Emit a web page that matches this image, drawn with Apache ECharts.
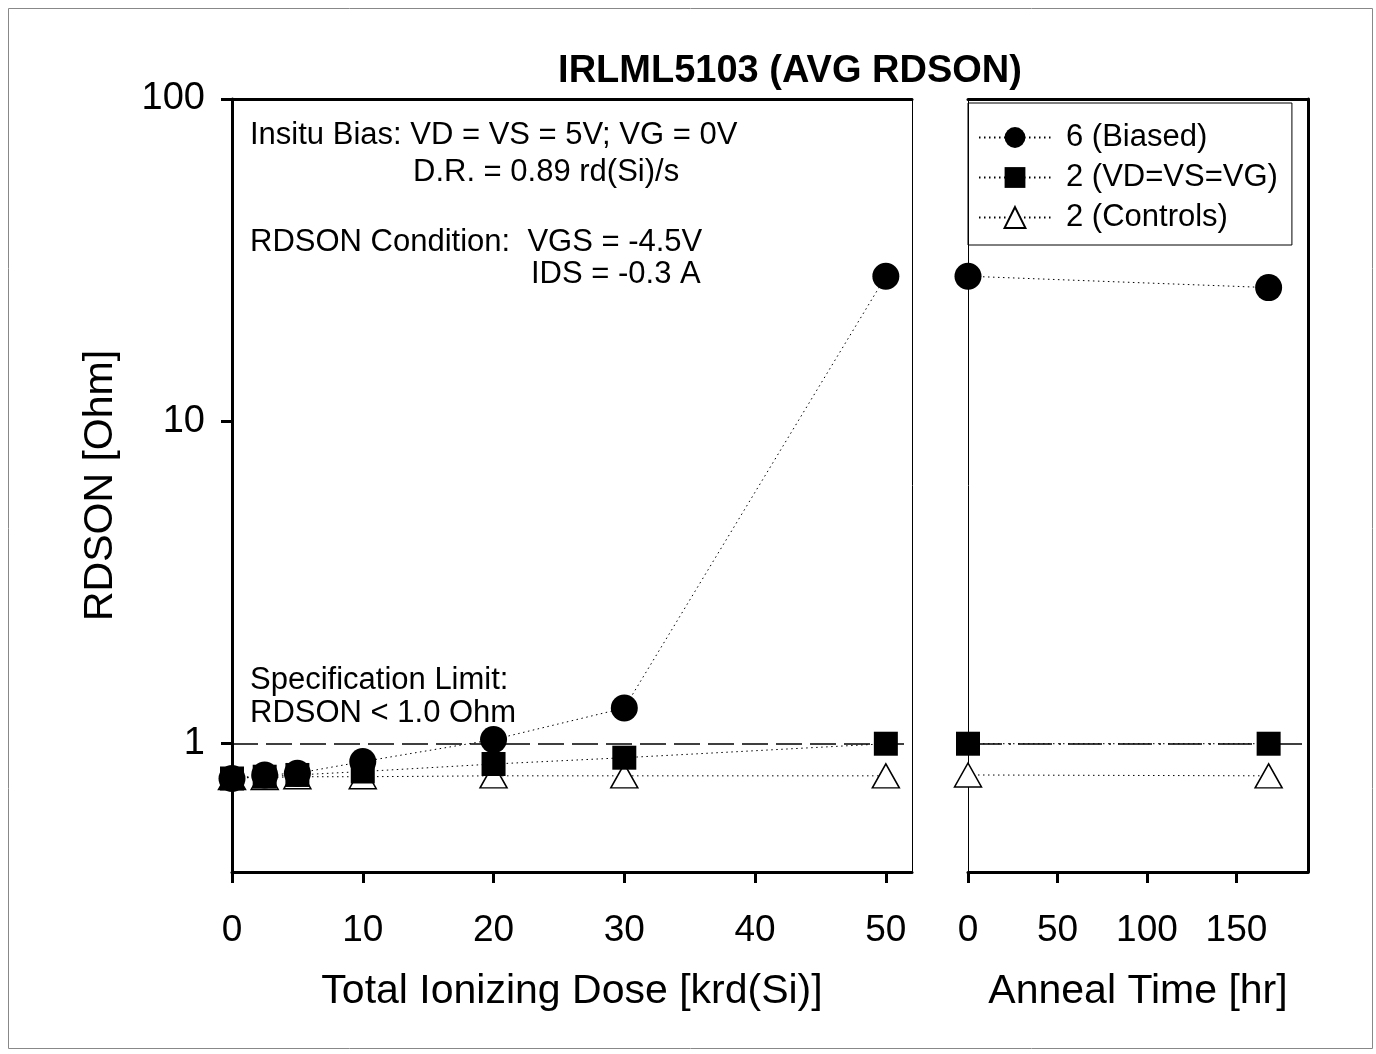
<!DOCTYPE html>
<html>
<head>
<meta charset="utf-8">
<title>IRLML5103 (AVG RDSON)</title>
<script src="https://cdn.jsdelivr.net/npm/echarts@6/dist/echarts.min.js"></script>
<style>
html, body { margin: 0; padding: 0; background: #fff; }
#chart { width: 1376px; height: 1054px; }
</style>
</head>
<body>
<div id="chart"></div>
<script>
// данные: доза (krd(Si)) и отжиг (hr)
const doseX = [0, 2.5, 5, 10, 20, 30, 50]
const annealX = [0, 168]

const biasedDose = [0.78, 0.80, 0.81, 0.88, 1.03, 1.29, 28.2]
const tiedDose = [0.78, 0.79, 0.80, 0.82, 0.865, 0.905, 1.0]
const controlDose = [0.785, 0.785, 0.79, 0.79, 0.795, 0.795, 0.795]

const biasedAnneal = [28.2, 26.0]
const tiedAnneal = [1.0, 1.0]
const controlAnneal = [0.80, 0.795]

const seriesNames = ['6 (Biased)', '2 (VD=VS=VG)', '2 (Controls)']

// подписи осей
const doseTicks = [0, 10, 20, 30, 40, 50]
const annealTicks = [0, 50, 100, 150]
const rdsonTicks = [1, 10, 100]
const specLimit = 1

const font = '"Liberation Sans", Arial, sans-serif'

function pairs(xs, ys) {
    return xs.map((x, i) => [x, ys[i]])
}

// маркеры
const markers = [
    { symbol: 'circle', symbolSize: 27, itemStyle: { color: '#000' }, z: 4 },
    { symbol: 'rect', symbolSize: 24, itemStyle: { color: '#000' }, z: 3 },
    { symbol: 'triangle', symbolSize: [27, 24], itemStyle: { color: '#fff', borderColor: '#000', borderWidth: 1.5 }, z: 2 }
]

const doseData = [biasedDose, tiedDose, controlDose]
const annealData = [biasedAnneal, tiedAnneal, controlAnneal]

let series = []
for (let i = 0; i < seriesNames.length; i++) {
    const base = {
        name: seriesNames[i],
        type: 'line',
        symbol: markers[i].symbol,
        symbolSize: markers[i].symbolSize,
        itemStyle: markers[i].itemStyle,
        z: markers[i].z,
        lineStyle: { color: '#000', width: 1, type: [1.5, 3.5] },
        emphasis: { disabled: true },
        animation: false
    }
    series.push(Object.assign({}, base, {
        xAxisIndex: 0, yAxisIndex: 0,
        data: pairs(doseX, doseData[i])
    }))
    series.push(Object.assign({}, base, {
        xAxisIndex: 2, yAxisIndex: 2,
        data: pairs(annealX, annealData[i])
    }))
}

// линия спецификации
series[0].markLine = {
    silent: true, symbol: 'none', label: { show: false },
    lineStyle: { color: '#000', width: 1.5, type: [26, 8] },
    data: [{ yAxis: specLimit }]
}
series[1].markLine = {
    silent: true, symbol: 'none', label: { show: false },
    lineStyle: { color: '#000', width: 1.5, type: [34, 7, 2, 7] },
    data: [{ yAxis: specLimit }]
}

function frameAxis(gridIndex, position, type, min, max, width) {
    return {
        gridIndex: gridIndex, position: position, type: type, min: min, max: max,
        axisLine: { show: true, onZero: false, lineStyle: { color: '#000', width: width } },
        axisTick: { show: false }, axisLabel: { show: false }, splitLine: { show: false }
    }
}

const tickStyle = { color: '#000', width: 3 }
const noteFont = '31px ' + font

const chart = echarts.init(document.getElementById('chart'))

const options = {
    animation: false,
    title: {
        text: 'IRLML5103 (AVG RDSON)',
        left: 785, top: 48, textAlign: 'center',
        textStyle: { fontFamily: font, fontSize: 38, fontWeight: 'bold', color: '#000' }
    },
    legend: {
        data: seriesNames,
        orient: 'vertical',
        left: 968, top: 103,
        padding: [19, 14, 12, 10],
        itemWidth: 72, itemHeight: 26, itemGap: 9,
        borderColor: '#000', borderWidth: 1,
        textStyle: { fontFamily: font, fontSize: 31, color: '#000', padding: [0, 0, 0, 10] }
    },
    grid: [
        { left: 232, top: 99, width: 680, height: 773 },
        { left: 968, top: 99, width: 340, height: 773 }
    ],
    xAxis: [
        {
            gridIndex: 0, position: 'bottom', type: 'value', min: 0, max: 52,
            axisLine: { onZero: false, lineStyle: { color: '#000', width: 3 } },
            axisTick: { show: true, length: 11, lineStyle: tickStyle, customValues: doseTicks },
            axisLabel: { fontFamily: font, fontSize: 37, color: '#000', margin: 40, customValues: doseTicks },
            splitLine: { show: false },
            name: 'Total Ionizing Dose [krd(Si)]', nameLocation: 'middle', nameGap: 99,
            nameTextStyle: { fontFamily: font, fontSize: 41, color: '#000' }
        },
        frameAxis(0, 'top', 'value', 0, 52, 3),
        {
            gridIndex: 1, position: 'bottom', type: 'value', min: 0, max: 190,
            axisLine: { onZero: false, lineStyle: { color: '#000', width: 3 } },
            axisTick: { show: true, length: 11, lineStyle: tickStyle, customValues: annealTicks },
            axisLabel: { fontFamily: font, fontSize: 37, color: '#000', margin: 40, customValues: annealTicks },
            splitLine: { show: false },
            name: 'Anneal Time [hr]', nameLocation: 'middle', nameGap: 99,
            nameTextStyle: { fontFamily: font, fontSize: 41, color: '#000' }
        },
        frameAxis(1, 'top', 'value', 0, 190, 3)
    ],
    yAxis: [
        {
            gridIndex: 0, position: 'left', type: 'log', logBase: 10, min: 0.4, max: 100,
            axisLine: { show: true, onZero: false, lineStyle: { color: '#000', width: 3 } },
            axisTick: { show: true, length: 11, lineStyle: tickStyle, customValues: rdsonTicks },
            axisLabel: { fontFamily: font, fontSize: 38, color: '#000', margin: 27, customValues: rdsonTicks },
            minorTick: { show: false },
            splitLine: { show: false },
            name: 'RDSON [Ohm]', nameLocation: 'middle', nameGap: 111, nameRotate: 90,
            nameTextStyle: { fontFamily: font, fontSize: 41, color: '#000' }
        },
        frameAxis(0, 'right', 'log', 0.4, 100, 1),
        frameAxis(1, 'left', 'log', 0.4, 100, 1),
        frameAxis(1, 'right', 'log', 0.4, 100, 3)
    ],
    graphic: [
        { type: 'rect', left: 6, top: 6, shape: { width: 1364, height: 1040 }, style: { fill: 'none', stroke: '#888', lineWidth: 1 } },
        { type: 'text', x: 250, y: 135, style: { text: 'Insitu Bias: VD = VS = 5V; VG = 0V', font: noteFont, fill: '#000', verticalAlign: 'middle' } },
        { type: 'text', x: 413, y: 172, style: { text: 'D.R. = 0.89 rd(Si)/s', font: noteFont, fill: '#000', verticalAlign: 'middle' } },
        { type: 'text', x: 250, y: 242, style: { text: 'RDSON Condition:  VGS = -4.5V', font: noteFont, fill: '#000', verticalAlign: 'middle' } },
        { type: 'text', x: 531, y: 274, style: { text: 'IDS = -0.3 A', font: noteFont, fill: '#000', verticalAlign: 'middle' } },
        { type: 'text', x: 250, y: 680, style: { text: 'Specification Limit:', font: noteFont, fill: '#000', verticalAlign: 'middle' } },
        { type: 'text', x: 250, y: 713, style: { text: 'RDSON < 1.0 Ohm', font: noteFont, fill: '#000', verticalAlign: 'middle' } }
    ],
    series: series
}

chart.setOption(options)
</script>
</body>
</html>
